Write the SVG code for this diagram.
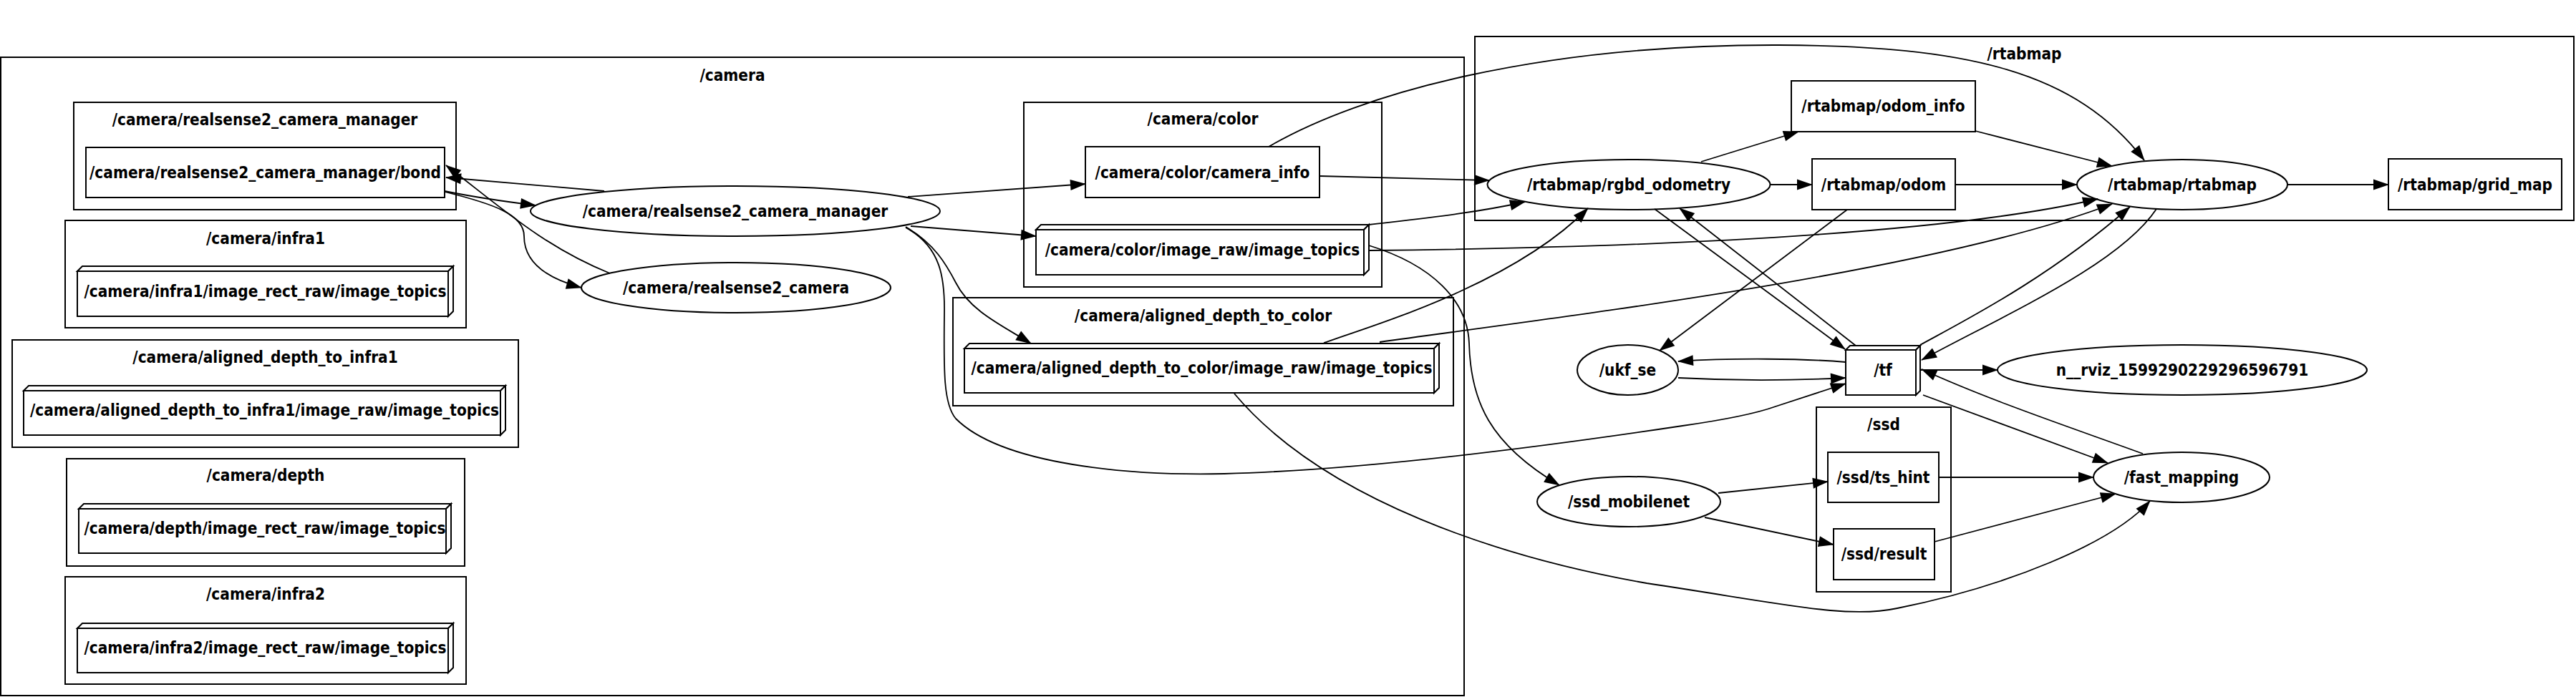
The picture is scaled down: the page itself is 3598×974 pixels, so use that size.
<svg xmlns="http://www.w3.org/2000/svg" width="3598" height="974" viewBox="0 0 3598 974">
<style>
.cl{fill:none;stroke:#000;stroke-width:2}
.nd{fill:#fff;stroke:#000;stroke-width:2}
.e{fill:none;stroke:#000;stroke-width:1.8;marker-end:url(#ah)}
text{font-family:"DejaVu Sans Condensed","DejaVu Sans","Liberation Sans",sans-serif;font-stretch:condensed;font-weight:bold;font-size:22.4px;text-anchor:middle;fill:#000}
</style>
<defs>
<marker id="ah" markerUnits="userSpaceOnUse" markerWidth="22" markerHeight="15" viewBox="0 0 22 15" refX="21" refY="7.5" orient="auto" overflow="visible">
<path d="M0,0 L22,7.5 L0,15 z" fill="#000"/>
</marker>
</defs>
<rect x="0" y="0" width="3598" height="974" fill="#fff"/>
<g id="clusters">
<g id="cluster_camera"><rect class="cl" x="1" y="80" width="2044" height="892"/><text x="1023" y="113">/camera</text></g>
<g id="cluster_rsmgr"><rect class="cl" x="103" y="143" width="534" height="150"/><text x="370" y="175">/camera/realsense2_camera_manager</text></g>
<g id="cluster_infra1"><rect class="cl" x="91" y="308" width="560" height="150"/><text x="371" y="341">/camera/infra1</text></g>
<g id="cluster_adti"><rect class="cl" x="17" y="475" width="707" height="150"/><text x="370.5" y="507">/camera/aligned_depth_to_infra1</text></g>
<g id="cluster_depth"><rect class="cl" x="93" y="641" width="556" height="150"/><text x="371" y="672">/camera/depth</text></g>
<g id="cluster_infra2"><rect class="cl" x="91" y="806" width="560" height="150"/><text x="371" y="838">/camera/infra2</text></g>
<g id="cluster_color"><rect class="cl" x="1430" y="143" width="500" height="258"/><text x="1680" y="174">/camera/color</text></g>
<g id="cluster_adtc"><rect class="cl" x="1331" y="416" width="699" height="151"/><text x="1680.5" y="449">/camera/aligned_depth_to_color</text></g>
<g id="cluster_rtabmap"><rect class="cl" x="2060" y="51" width="1535" height="257"/><text x="2827.5" y="83">/rtabmap</text></g>
<g id="cluster_ssd"><rect class="cl" x="2537" y="569" width="188" height="258"/><text x="2631" y="601">/ssd</text></g>
</g>
<g id="node_bond"><rect class="nd" x="120" y="206" width="501" height="70"/><text x="370.5" y="249">/camera/realsense2_camera_manager/bond</text></g>
<g id="node_infra1_topics"><rect class="nd" x="108" y="379" width="518" height="63"/><polygon class="nd" points="108,379 115,372 633,372 626,379"/><polygon class="nd" points="626,379 633,372 633,435 626,442"/><text x="370.5" y="415">/camera/infra1/image_rect_raw/image_topics</text></g>
<g id="node_adti_topics"><rect class="nd" x="33" y="546" width="666" height="62"/><polygon class="nd" points="33,546 40,539 706,539 699,546"/><polygon class="nd" points="699,546 706,539 706,601 699,608"/><text x="369.5" y="581">/camera/aligned_depth_to_infra1/image_raw/image_topics</text></g>
<g id="node_depth_topics"><rect class="nd" x="110" y="711" width="513" height="62"/><polygon class="nd" points="110,711 117,704 630,704 623,711"/><polygon class="nd" points="623,711 630,704 630,766 623,773"/><text x="370" y="746">/camera/depth/image_rect_raw/image_topics</text></g>
<g id="node_infra2_topics"><rect class="nd" x="108" y="878" width="518" height="62"/><polygon class="nd" points="108,878 115,871 633,871 626,878"/><polygon class="nd" points="626,878 633,871 633,933 626,940"/><text x="370.5" y="913">/camera/infra2/image_rect_raw/image_topics</text></g>
<g id="node_manager"><ellipse class="nd" cx="1027" cy="295" rx="286" ry="35"/><text x="1027" y="303">/camera/realsense2_camera_manager</text></g>
<g id="node_rs2cam"><ellipse class="nd" cx="1028" cy="402" rx="216" ry="35"/><text x="1028" y="410">/camera/realsense2_camera</text></g>
<g id="node_camera_info"><rect class="nd" x="1516" y="205" width="327" height="71"/><text x="1679.5" y="249">/camera/color/camera_info</text></g>
<g id="node_color_topics"><rect class="nd" x="1447" y="321" width="458" height="63"/><polygon class="nd" points="1447,321 1454,314 1912,314 1905,321"/><polygon class="nd" points="1905,321 1912,314 1912,377 1905,384"/><text x="1679.5" y="357">/camera/color/image_raw/image_topics</text></g>
<g id="node_adtc_topics"><rect class="nd" x="1347" y="487" width="656" height="62"/><polygon class="nd" points="1347,487 1354,480 2010,480 2003,487"/><polygon class="nd" points="2003,487 2010,480 2010,542 2003,549"/><text x="1678.5" y="522">/camera/aligned_depth_to_color/image_raw/image_topics</text></g>
<g id="node_rgbd"><ellipse class="nd" cx="2275" cy="258" rx="197.5" ry="35"/><text x="2275" y="266">/rtabmap/rgbd_odometry</text></g>
<g id="node_odom_info"><rect class="nd" x="2502" y="113" width="257" height="71"/><text x="2630.5" y="156">/rtabmap/odom_info</text></g>
<g id="node_odom"><rect class="nd" x="2531" y="222" width="200" height="71"/><text x="2631" y="266">/rtabmap/odom</text></g>
<g id="node_rtabmap"><ellipse class="nd" cx="3048" cy="258" rx="147" ry="35"/><text x="3048" y="266">/rtabmap/rtabmap</text></g>
<g id="node_grid_map"><rect class="nd" x="3336" y="222" width="242" height="71"/><text x="3457" y="266">/rtabmap/grid_map</text></g>
<g id="node_ukf_se"><ellipse class="nd" cx="2273.5" cy="517" rx="70.5" ry="35"/><text x="2273.5" y="525">/ukf_se</text></g>
<g id="node_tf"><rect class="nd" x="2578" y="489" width="98" height="63"/><polygon class="nd" points="2578,489 2584,483 2682,483 2676,489"/><polygon class="nd" points="2676,489 2682,483 2682,546 2676,552"/><text x="2630" y="525">/tf</text></g>
<g id="node_rviz"><ellipse class="nd" cx="3048" cy="517" rx="258" ry="35"/><text x="3048" y="525">n__rviz_1599290229296596791</text></g>
<g id="node_ts_hint"><rect class="nd" x="2553" y="632" width="155" height="70"/><text x="2630.5" y="675">/ssd/ts_hint</text></g>
<g id="node_result"><rect class="nd" x="2561" y="739" width="141" height="71"/><text x="2631.5" y="782">/ssd/result</text></g>
<g id="node_fast_mapping"><ellipse class="nd" cx="3047" cy="667" rx="123" ry="35"/><text x="3047" y="675">/fast_mapping</text></g>
<g id="node_ssd_mobilenet"><ellipse class="nd" cx="2275" cy="701" rx="128" ry="35"/><text x="2275" y="709">/ssd_mobilenet</text></g>
<g id="edges">
<path class="e" d="M621,267 C660,275 700,281 748,287"/>
<path class="e" d="M844,267 L623,248"/>
<path class="e" d="M852,382 C760,345 700,290 623,231"/>
<path class="e" d="M621,268 C690,285 732,300 732,330 C732,365 760,388 812,402"/>
<path class="e" d="M1268,275 L1516,257"/>
<path class="e" d="M1272,316 L1447,330"/>
<path class="e" d="M1265,317 C1305,340 1322,370 1335,395 C1355,435 1400,455 1440,480"/>
<path class="e" d="M1265,318 C1315,345 1320,390 1319,440 C1318,520 1318,565 1335,585 C1400,650 1580,665 1710,662 C1900,657 2150,625 2350,595 C2420,585 2455,577 2480,568 L2578,536"/>
<path class="e" d="M1843,246 L2080,252"/>
<path class="e" d="M1912,314 C1980,306 2060,298 2130,282"/>
<path class="e" d="M1912,350 C2400,345 2750,320 2930,278"/>
<path class="e" d="M1772,205 C1900,130 2150,62 2484,63 C2750,64 2900,100 2995,224"/>
<path class="e" d="M1849,479 C1950,445 2120,390 2218,291"/>
<path class="e" d="M1927,478 C2200,440 2700,380 2950,285"/>
<path class="e" d="M2682,482 C2740,450 2860,390 2975,289"/>
<path class="e" d="M3012,292 C2960,370 2800,440 2684,503"/>
<path class="e" d="M2311,292 L2577,488"/>
<path class="e" d="M2592,483 L2346,291"/>
<path class="e" d="M2580,293 L2318,490"/>
<path class="e" d="M2578,506 C2520,501 2420,500 2344,505"/>
<path class="e" d="M2344,528 C2420,532 2500,532 2578,528"/>
<path class="e" d="M2682,517 L2790,517"/>
<path class="e" d="M2993,634 C2900,600 2780,560 2684,516"/>
<path class="e" d="M2686,552 L2944,647"/>
<path class="e" d="M2400,689 L2553,673"/>
<path class="e" d="M2381,723 L2561,761"/>
<path class="e" d="M2708,667 L2924,667"/>
<path class="e" d="M2702,757 L2955,690"/>
<path class="e" d="M1724,550 C1850,700 2100,780 2300,815 C2500,845 2580,865 2650,850 C2800,820 2950,760 3003,700"/>
<path class="e" d="M1912,343 C2000,370 2050,420 2052,480 C2054,560 2080,620 2178,678"/>
<path class="e" d="M2376,226 L2512,184"/>
<path class="e" d="M2472,258 L2531,258"/>
<path class="e" d="M2759,183 L2950,232"/>
<path class="e" d="M2731,258 L2901,258"/>
<path class="e" d="M3195,258 L3336,258"/>
</g>
</svg>
